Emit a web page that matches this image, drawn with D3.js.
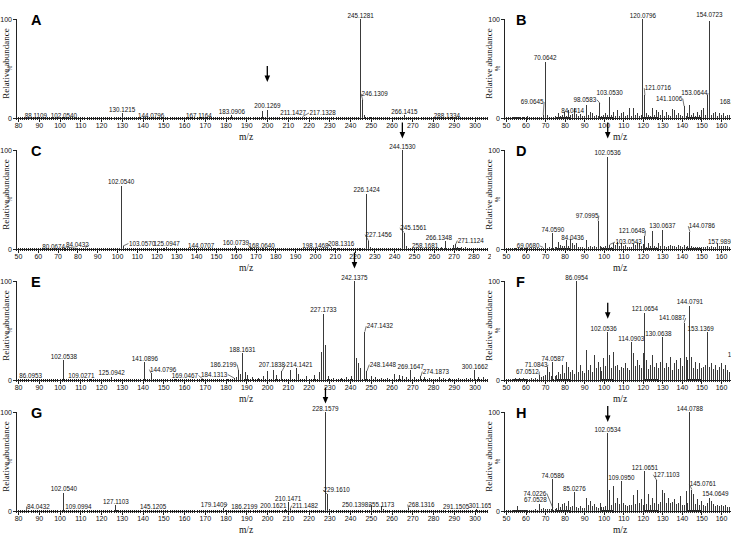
<!DOCTYPE html>
<html><head><meta charset="utf-8">
<script src="https://cdn.jsdelivr.net/npm/d3@7"></script>
<style>
body{margin:0;background:#fff}
svg{display:block}
.tick text{font-family:"Liberation Sans",Arial,sans-serif;font-size:7px;fill:#111}
.plab{font-family:"Liberation Sans",Arial,sans-serif;font-size:6.3px;fill:#111}
.ttl{font-family:"Liberation Serif","Times New Roman",serif;font-size:9px;fill:#111}
.mz{font-family:"Liberation Serif","Times New Roman",serif;font-size:9.5px;fill:#111}
.let{font-family:"Liberation Sans",Arial,sans-serif;font-size:14.5px;font-weight:bold;fill:#000}
</style>
</head><body>
<svg id="chart" width="731" height="549"></svg>
<script>
// ---------- DATA ----------
const ticksA = [80,90,100,110,120,130,140,150,160,170,180,190,200,210,220,230,240,250,260,270,280,290,300];
const ticksC = [50,60,70,80,90,100,110,120,130,140,150,160,170,180,190,200,210,220,230,240,250,260,270,280,290];
const ticksR = [50,60,70,80,90,100,110,120,130,140,150,160];

const A_labels = [["88.1109",0.5],["102.0540",1],["130.1215",5],["144.0796",0.5],["167.1164",0.5],["183.0906",3],["200.1269",8.5],["211.1427",1.5],["217.1328",1.5],["245.1281",100],["246.1309",18],["266.1415",3],["288.1334",0.5]];
const A_peaks = [[197.7,7],[201.2,1.5],[184.1,1],[131.1,1],[168.1,0.8],[212.1,1],[216.1,1],[230.1,0.6],[247.1,3],[248.6,1.5],[250.1,1],[256.1,0.8],[267.1,1],[270.1,0.8],[289.1,0.6],[305.2,1.5],[112.1,0.6],[158.1,0.5]];
const A_arrow = ["200.1269"];

const B_labels = [["69.0645",3],["70.0642",57],["84.0414",4],["98.0583",15],["103.0530",21.5],["120.0796",100],["121.0716",23],["141.1006",12],["153.0644",23],["154.0723",98],["168.1276",12.5]];
const B_peaks = [[52.1,0.8],[54.1,1],[55.1,1],[56.1,1.3],[57.1,1.3],[59.1,1],[61.1,2],[63.1,1.2],[65.1,1],[67.1,1],[68.1,1.5],[71.1,3],[73.1,1.5],[75.1,2],[76.1,1.5],[77.1,5],[78.1,2],[79.1,3],[80.1,6],[81.1,2.5],[82.1,8],[83.1,3],[85.1,10],[86.1,4],[87.1,2],[88.1,4],[89.1,2],[90.1,2],[91.1,13],[92.1,3],[93.1,6.4],[94.1,4.7],[95.1,2],[96.1,3],[97.1,2],[99.1,2],[100.1,3],[101.1,4.7],[102.1,3],[104.1,3],[105.1,6.4],[106.1,2],[107.1,8],[108.1,2.5],[109.1,4.7],[110.1,6.4],[111.1,2],[112.1,3],[113.1,9.8],[114.1,2],[115.1,9.8],[116.1,3],[117.1,4.7],[118.1,2],[119.1,3],[122.1,4.7],[123.1,3],[124.1,2],[125.1,9.8],[126.1,3],[127.1,8],[128.1,6.4],[129.1,3],[130.1,8],[131.1,2.5],[132.1,6.4],[133.1,3],[134.1,2],[135.1,8.8],[136.1,8],[137.1,3],[138.1,4.7],[139.1,3],[140.1,2],[142.1,2],[143.1,5.4],[144.1,13],[145.1,3],[146.1,4.7],[147.1,2.5],[148.1,6.4],[149.1,3],[150.1,8],[151.1,9.8],[152.1,3],[155.1,3],[156.1,4.7],[157.1,6.4],[158.1,2],[159.1,4.7],[160.1,3],[161.1,4.7],[162.1,2.5],[163.1,3],[164.1,3],[165.1,2]];

const C_labels = [["80.0674",0.5],["84.0432",1.5],["102.0540",64],["103.0570",3],["125.0947",2],["144.0707",1],["160.0739",3],["168.0640",1],["198.1468",0.5],["208.1316",2],["226.1424",56],["227.1456",8],["244.1530",100],["245.1561",16.5],["258.1681",1],["266.1348",8],["271.1124",5]];
const C_peaks = [[101.1,1],[104.1,1.5],[126.1,1],[135.1,0.8],[186.1,0.8],[207.1,1],[210.1,1],[212.1,1],[225.1,1.5],[228.1,2],[243.1,1.5],[246.2,3],[247.2,1],[264.1,2],[270.1,4],[272.1,2],[273.3,1.5],[274.1,2],[276.1,2.5],[285.2,1.5]];
const C_arrow = ["244.1530"];

const D_labels = [["69.0680",1.5],["74.0590",16],["84.0436",6],["97.0995",28.5],["102.0536",93],["103.0543",4.5],["121.0648",13],["130.0637",19.5],["144.0786",17.5],["157.9894",5.6]];
const D_peaks = [[55.1,1.5],[58.1,1],[60.1,1],[62.1,1],[64.1,1],[66.1,1],[67.1,1.5],[70.1,5.6],[71.1,1.5],[72.1,2],[73.1,1.5],[75.1,2],[76.1,2],[77.1,7.4],[78.1,4],[79.1,3],[80.1,3],[81.1,9.3],[82.1,3],[83.1,10.4],[85.1,4],[86.1,6.3],[87.1,2.5],[88.1,2.5],[89.1,2],[90.1,1.5],[91.1,9.3],[92.1,2],[93.1,3],[94.1,2.5],[95.1,2.6],[96.1,2],[98.1,3],[99.1,2],[100.1,2],[101.1,3],[104.1,2],[105.1,6.3],[106.1,4],[107.1,7.4],[108.1,3],[109.1,5.6],[110.1,3],[111.1,3.7],[112.1,2.5],[113.1,2.5],[114.1,2],[115.1,4.8],[116.1,4.5],[117.1,5.6],[118.1,5.6],[119.1,3],[120.1,5],[122.1,2],[123.1,5.6],[124.1,3],[125.1,17.8],[126.1,3],[127.1,2],[128.1,5.6],[129.1,3],[131.1,3],[132.1,2.5],[133.1,3],[134.1,3.7],[135.1,3.5],[136.1,3],[137.1,2],[138.1,3.7],[139.1,3],[140.1,2],[141.1,3.7],[142.1,2.5],[143.1,3],[145.1,3],[146.1,2],[147.1,2.5],[148.1,2],[149.1,2.5],[150.1,2.5],[151.1,2],[152.1,2.5],[153.1,3],[154.1,2.5],[155.1,3],[156.1,2.5],[157.1,2],[159.1,3],[160.1,3.5],[161.1,3],[162.1,3],[163.1,3],[164.1,2.5],[165.1,2]];
const D_arrow = ["102.0536"];

const E_labels = [["86.0953",0.5],["102.0538",20],["109.0271",0.5],["125.0942",3.5],["141.0896",17.8],["144.0796",7],["169.0467",1],["184.1313",2],["186.2199",10],["188.1631",27],["207.1838",9],["214.1421",12],["227.1733",67],["242.1375",100],["247.1432",48.8],["248.1448",9],["269.1647",10],["274.1873",4],["300.1662",10]];
const E_peaks = [[106.1,1],[112.1,1],[115.1,1],[118.1,1],[131.1,1.5],[135.1,1],[138.1,1],[148.1,1.5],[152.1,1],[156.1,1.5],[160.1,1],[165.1,1],[172.1,1],[174.1,1.5],[178.1,1.5],[181.1,1.5],[185.2,3],[187.1,6],[189.4,8],[190.5,5],[193.1,3],[196.1,2.5],[198.2,4],[200.1,9],[202.9,10],[204.5,5],[211.1,10],[215.1,6],[219.1,4],[223.1,5],[225.1,8],[226.1,28],[228.2,35],[229.5,4],[232.1,2],[236.1,2],[238.1,3],[240.7,4],[243.2,22],[244.2,17],[245.1,12],[250.3,4],[252.1,3],[255.1,2.5],[258.1,2],[261.5,6],[263.9,5],[265.5,4],[267.1,3],[271.1,3],[276.1,3],[278.5,2.5],[283.2,3.5],[285.1,2],[288.1,2],[292.1,2],[296.1,2],[298.1,2.5],[302.1,3],[304.5,3]];
const E_arrow = ["242.1375"];

const F_labels = [["67.0512",5],["71.0843",13.3],["74.0587",17.7],["86.0954",100],["102.0536",48.3],["114.0903",38],["121.0654",68],["130.0638",43],["141.0887",58],["144.0791",75],["153.1369",48],["170.0968",22]];
const F_peaks = [[52.1,1],[53.1,1],[54.1,1.5],[55.1,2],[56.1,1.5],[57.1,2],[58.1,1],[59.1,2],[60.1,1],[61.1,1.5],[62.1,1],[63.1,2],[64.1,1],[65.1,2],[66.1,1.5],[68.1,3],[69.1,4],[70.1,5],[72.1,8],[73.1,4],[75.1,4],[76.1,5],[77.1,8],[78.1,6],[79.1,15],[80.1,7],[81.1,18],[82.1,13],[83.1,8],[84.1,10],[85.1,6],[87.1,8],[88.1,15],[89.1,9],[90.1,7],[91.1,30],[92.1,10],[93.1,15],[94.1,8],[95.1,25],[96.1,12],[97.1,18],[98.1,13],[99.1,9],[100.1,22],[101.1,14],[103.1,25],[104.1,12],[105.1,28],[106.1,14],[107.1,15],[108.1,10],[109.1,13],[110.1,12],[111.1,17],[112.1,12],[113.1,10],[115.1,27],[116.1,14],[117.1,20],[118.1,15],[119.1,12],[120.1,27],[122.1,20],[123.1,11],[124.1,15],[125.1,25],[126.1,13],[127.1,17],[128.1,12],[129.1,18],[131.1,12],[132.1,17],[133.1,13],[134.1,23],[135.1,10],[136.1,17],[137.1,20],[138.1,11],[139.1,22],[140.1,14],[142.1,23],[143.1,20],[145.1,23],[146.1,12],[147.1,18],[148.1,11],[149.1,17],[150.1,12],[151.1,13],[152.1,15],[154.1,13],[155.1,17],[156.1,11],[157.1,15],[158.1,10],[159.1,13],[160.1,17],[161.1,11],[162.1,15],[163.1,10],[164.1,8],[165.1,9]];
const F_arrow = ["102.0536"];

const G_labels = [["84.0432",1],["102.0540",18.3],["109.0994",1],["127.1103",5.7],["145.1205",1],["179.1409",3],["186.2199",1],["200.1621",1.5],["210.1471",9],["211.1482",2],["228.1579",100],["229.1610",16.7],["250.1398",6],["255.1173",5],["268.1316",3],["291.1505",1],["301.1651",2]];
const G_peaks = [[209.1,2],[212.1,1],[227.1,1.5],[230.1,2],[256.1,2],[269.1,1.5],[246.1,1],[240.1,1],[180.1,1],[185.1,1],[128.1,1],[103.1,1]];
const G_arrow = ["228.1579"];

const H_labels = [["67.0528",6.7],["74.0226",3],["74.0586",32.3],["85.0276",19],["102.0534",78.3],["109.0950",30],["121.0651",40],["127.1103",31],["144.0788",100],["145.0761",21.7],["154.0649",13.3]];
const H_peaks = [[52.1,1],[53.1,1],[54.1,1.5],[55.1,1.2],[56.1,5],[57.1,1.5],[58.1,1],[59.1,1.5],[60.1,1],[61.1,1],[62.1,1],[63.1,1.5],[64.1,1],[65.1,2],[66.1,1.5],[68.1,2],[69.1,3.3],[70.1,2],[71.1,2],[72.1,2.5],[73.1,2],[75.1,2],[76.1,3],[77.1,8.3],[78.1,4],[79.1,6.7],[80.1,7.7],[81.1,5],[82.1,10],[83.1,4],[84.1,5],[86.1,4],[87.1,3],[88.1,5],[89.1,3.5],[90.1,3],[91.1,13.3],[92.1,6],[93.1,10],[94.1,5],[95.1,6.7],[96.1,4],[97.1,3],[98.1,8],[99.1,4],[100.1,4],[101.1,5],[103.1,21.7],[104.1,6],[105.1,25.7],[106.1,8],[107.1,13.3],[108.1,7],[110.1,8],[111.1,6],[112.1,5],[113.1,6],[114.1,6],[115.1,15.7],[116.1,7],[117.1,21.7],[118.1,8],[119.1,12.3],[120.1,6],[122.1,7],[123.1,16.7],[124.1,6],[125.1,13.3],[126.1,8],[128.1,7],[129.1,9],[130.1,21.7],[131.1,18.3],[132.1,8],[133.1,13.3],[134.1,8],[135.1,9],[136.1,11.7],[137.1,7],[138.1,8],[139.1,15],[140.1,6],[141.1,6],[142.1,20],[143.1,8],[146.1,16.7],[147.1,7],[148.1,11.7],[149.1,6],[150.1,10],[151.1,6],[152.1,5],[153.1,8.3],[155.1,10],[156.1,7],[157.1,5],[158.1,6],[159.1,5],[160.1,6],[161.1,5],[162.1,6],[163.1,4],[164.1,4],[165.1,3]];
const H_arrow = ["102.0534"];

// ---------- LAYOUT (positions / offsets, not data) ----------
const LABEL_SHIFT = {
  A: {"88.1109":[1,2],"102.0540":[0,2],"144.0796":[0,2],"167.1164":[0,2],"211.1427":[3,0],"217.1328":[20,0],"246.1309":[12,-3],"288.1334":[-3,2]},
  B: {"69.0645":[-11,-9.5],"98.0583":[-15,0],"121.0716":[13,-3.5],"141.1006":[-15,-4],"153.0644":[-13,1.5],"154.0723":[0,-2],"168.1276":[-4,0]},
  C: {"80.0674":[-24,2],"84.0432":[-8,1],"103.0570":[19,1],"144.0707":[-3,1],"168.0640":[10,1],"198.1468":[4,1],"208.1316":[10,0],"227.1456":[10,-3],"245.1561":[9,-1],"258.1681":[-5,1],"266.1348":[-7,0],"271.1124":[15,0]},
  D: {"69.0680":[-15,2],"84.0436":[0,-2],"97.0995":[-11,-1.5],"103.0543":[19,1],"121.0648":[-13,-2],"144.0786":[12,-2],"157.9894":[4,2]},
  E: {"109.0271":[3,0],"144.0796":[12,0],"169.0467":[-18,0],"184.1313":[-20,0],"186.2199":[-15,-2],"207.1838":[-10,-3],"214.1421":[3,0],"247.1432":[15,-2],"248.1448":[16,-3],"274.1873":[15,-1]},
  F: {"67.0512":[-12,0],"71.0843":[-11,1.5],"102.0536":[-4,0],"130.0638":[-4,0],"141.0887":[-12,-1],"153.1369":[-7,0]},
  G: {"84.0432":[12,0],"179.1409":[-10,0],"186.2199":[6,0],"200.1621":[6,0],"211.1482":[15,0],"229.1610":[9,-1],"250.1398":[-16,3],"255.1173":[0,2],"268.1316":[13,0],"301.1651":[5,0]},
  H: {"67.0528":[-4,-1],"74.0226":[-18,-11],"127.1103":[10,-2],"145.0761":[11,-2],"154.0649":[6,0]}
};
const ARROW_GAP = {A:21,C:5,D:12,E:6,F:7,G:2,H:5};
const ROW_Y0 = [118, 249, 380, 511];
const PLOT_H = 99;
const COLS = [
  {axisX:16, endX:488, letterX:31, yTitleX:8.5, mzX:246},
  {axisX:504, endX:731, letterX:516, yTitleX:491.5, mzX:620}
];
const panels = [
  {id:"A",row:0,col:0,domain:[79,306.5],ticks:ticksA,labels:A_labels,peaks:A_peaks,arrow:A_arrow},
  {id:"B",row:0,col:1,domain:[49,165.1],ticks:ticksR,labels:B_labels,peaks:B_peaks,arrow:[]},
  {id:"C",row:1,col:0,domain:[49,287.4],ticks:ticksC,labels:C_labels,peaks:C_peaks,arrow:C_arrow},
  {id:"D",row:1,col:1,domain:[49,165.1],ticks:ticksR,labels:D_labels,peaks:D_peaks,arrow:D_arrow},
  {id:"E",row:2,col:0,domain:[79,306.5],ticks:ticksA,labels:E_labels,peaks:E_peaks,arrow:E_arrow},
  {id:"F",row:2,col:1,domain:[49,165.1],ticks:ticksR,labels:F_labels,peaks:F_peaks,arrow:F_arrow},
  {id:"G",row:3,col:0,domain:[79,306.5],ticks:ticksA,labels:G_labels,peaks:G_peaks,arrow:G_arrow},
  {id:"H",row:3,col:1,domain:[49,165.1],ticks:ticksR,labels:H_labels,peaks:H_peaks,arrow:H_arrow}
];

// ---------- DRAW ----------
const svg = d3.select("#chart");
svg.append("rect").attr("width",731).attr("height",549).attr("fill","#fff");
const defs = svg.append("defs");
defs.append("clipPath").attr("id","clipL").append("rect").attr("x",0).attr("y",0).attr("width",491).attr("height",549);
defs.append("clipPath").attr("id","clipR").append("rect").attr("x",484).attr("y",0).attr("width",247).attr("height",549);

const INK = "#222";
const PEAK = "#3a3a3a";

panels.forEach(p => {
  const c = COLS[p.col];
  const y0 = ROW_Y0[p.row];
  const g = svg.append("g").attr("clip-path", p.col === 0 ? "url(#clipL)" : "url(#clipR)");
  const x = d3.scaleLinear().domain(p.domain).range([c.axisX, c.endX]);
  const y = d3.scaleLinear().domain([0,100]).range([y0, y0 - PLOT_H]);

  const minor = d3.range(Math.ceil(p.domain[0]), p.domain[1], 1);
  const gm = g.append("g").attr("transform",`translate(0,${y0})`)
    .call(d3.axisBottom(x).tickValues(minor).tickSize(2).tickSizeOuter(0).tickFormat(""));
  gm.select(".domain").remove();
  gm.selectAll("line").attr("stroke",INK).attr("y1",-1).attr("shape-rendering","crispEdges");

  const gx = g.append("g").attr("transform",`translate(0,${y0})`)
    .call(d3.axisBottom(x).tickValues(p.ticks).tickSize(3.5).tickSizeOuter(0).tickPadding(1.5).tickFormat(d3.format("d")));
  gx.select(".domain").remove();
  gx.selectAll("line").attr("stroke",INK).attr("y1",-1.5).attr("shape-rendering","crispEdges");

  g.append("line").attr("x1",c.axisX).attr("x2",c.endX).attr("y1",y0).attr("y2",y0)
    .attr("stroke",INK).attr("shape-rendering","crispEdges");

  const gy = g.append("g").attr("transform",`translate(${c.axisX},0)`)
    .call(d3.axisLeft(y).tickValues([0,100]).tickSize(3).tickSizeOuter(0).tickPadding(1));
  gy.select(".domain").remove();
  gy.selectAll("line").attr("stroke",INK).attr("shape-rendering","crispEdges");
  g.append("line").attr("x1",c.axisX).attr("x2",c.axisX).attr("y1",y(0)).attr("y2",y(100))
    .attr("stroke",INK).attr("shape-rendering","crispEdges");
  g.append("text").attr("class","plab")
    .attr("transform",`translate(${c.axisX-4},${y(50)}) rotate(-90)`)
    .attr("text-anchor","middle").attr("font-size","6px").text("%");

  g.append("text").attr("class","ttl")
    .attr("transform",`translate(${c.yTitleX},${y0-54.5}) rotate(-90)`)
    .attr("text-anchor","middle").text("Relative abundance");
  g.append("text").attr("class","mz").attr("x",c.mzX).attr("y",y0+21.5)
    .attr("text-anchor","middle").text("m/z");
  g.append("text").attr("class","let").attr("x",c.letterX).attr("y",y0-PLOT_H+6).text(p.id);

  g.selectAll("line.pk").data(p.peaks).enter().append("line").attr("class","pk")
    .attr("x1",d=>x(d[0])).attr("x2",d=>x(d[0]))
    .attr("y1",y0).attr("y2",d=>y(d[1]))
    .attr("stroke",PEAK).attr("stroke-width",1).attr("shape-rendering","crispEdges");

  const shifts = LABEL_SHIFT[p.id] || {};
  const labelPos = {};
  p.labels.forEach(([txt,h]) => {
    const mz = +txt;
    const px = x(mz), py = y(h);
    g.append("line").attr("x1",px).attr("x2",px).attr("y1",y0).attr("y2",py)
      .attr("stroke",PEAK).attr("stroke-width",1).attr("shape-rendering","crispEdges");
    const off = shifts[txt] || [0,0];
    const lx = px + off[0], ly = py - 1.5 + off[1];
    const t = g.append("text").attr("class","plab").attr("x",lx).attr("y",ly)
      .attr("text-anchor","middle").text(txt);
    labelPos[txt] = {x:px, top: ly - 5};
    if (Math.abs(off[0]) > 7) {
      const w = t.node().getComputedTextLength();
      const ex = off[0] > 0 ? lx - w/2 - 0.5 : lx + w/2 + 0.5;
      g.append("line").attr("x1",px).attr("y1",py).attr("x2",ex).attr("y2",ly-2)
        .attr("stroke",PEAK).attr("stroke-width",0.7);
    }
  });

  p.arrow.forEach(txt => {
    const lp = labelPos[txt];
    const tip = lp.top - ARROW_GAP[p.id];
    const ax = lp.x;
    svg.append("line").attr("x1",ax).attr("x2",ax).attr("y1",tip-16).attr("y2",tip-4)
      .attr("stroke","#000").attr("stroke-width",1.3);
    svg.append("path").attr("d",`M${ax-2.8},${tip-6.5}L${ax+2.8},${tip-6.5}L${ax},${tip}Z`).attr("fill","#000");
  });
});
</script>
</body></html>
